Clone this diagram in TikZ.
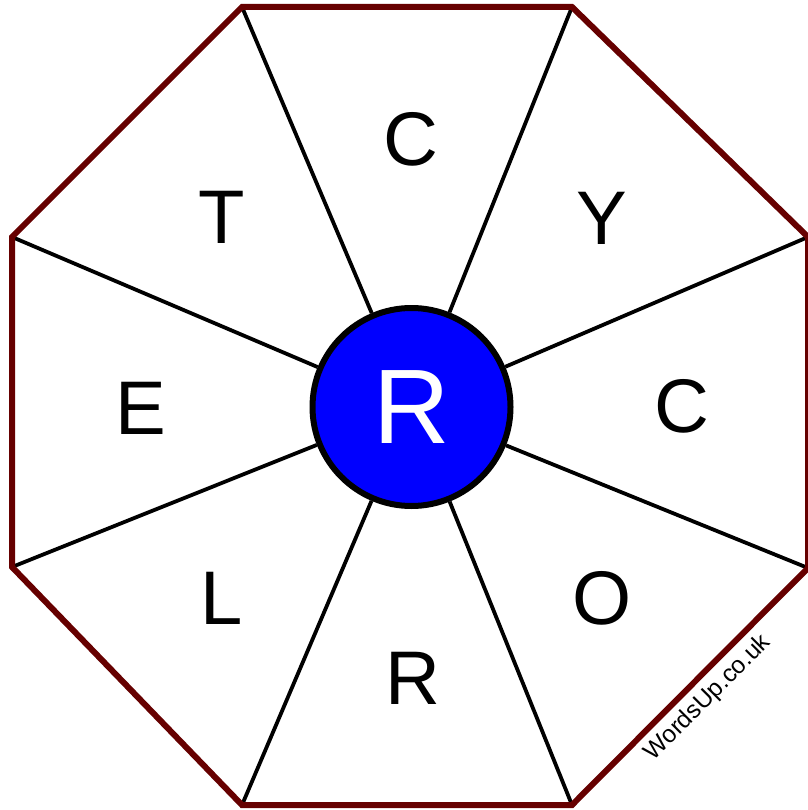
\documentclass[tikz,border=0pt]{standalone}
\usepackage{fontspec}
\setmainfont{Liberation Sans}
\usetikzlibrary{calc}
\definecolor{octred}{RGB}{102,0,0}
\definecolor{hubblue}{RGB}{0,0,255}
\begin{document}
\begin{tikzpicture}[x=1pt,y=-1pt,
  rim/.style={draw=octred,line width=6pt,line join=miter},
  spoke/.style={draw=black,line width=3.8pt},
  hub/.style={circle,draw=black,line width=6pt,fill=hubblue,minimum size=198pt,inner sep=0pt,text=white,font=\fontsize{106}{106}\selectfont},
  letter/.style={font=\fontsize{76}{76}\selectfont},
  wmark/.style={font=\fontsize{24.5}{24.5}\selectfont,rotate=45}
]
\useasboundingbox (0,0) rectangle (807,810);
\coordinate (v0) at (242,7);
\coordinate (v1) at (572,7);
\coordinate (v2) at (808,237);
\coordinate (v3) at (808,568);
\coordinate (v4) at (572,805);
\coordinate (v5) at (242,805);
\coordinate (v6) at (12,567);
\coordinate (v7) at (12,237);
\node[hub] (h) at (411.5,407) {R};
\foreach \i in {0,...,7} {
  \draw[spoke] (v\i) -- (h);
}
\draw[rim] (v0) -- (v1) -- (v2) -- (v3) -- (v4) -- (v5) -- (v6) -- (v7) -- cycle;
\node[letter] (l1) at (411,139) {C};
\node[letter] (l2) at (602,218) {Y};
\node[letter] (l3) at (682,406) {C};
\node[letter] (l4) at (602,598) {O};
\node[letter] (l5) at (413,678) {R};
\node[letter] (l6) at (222,598) {L};
\node[letter] (l7) at (141,408) {E};
\node[letter] (l8) at (222,217) {T};
\node[wmark] (wm) at (708,698) {WordsUp.co.uk};
\end{tikzpicture}
\end{document}
